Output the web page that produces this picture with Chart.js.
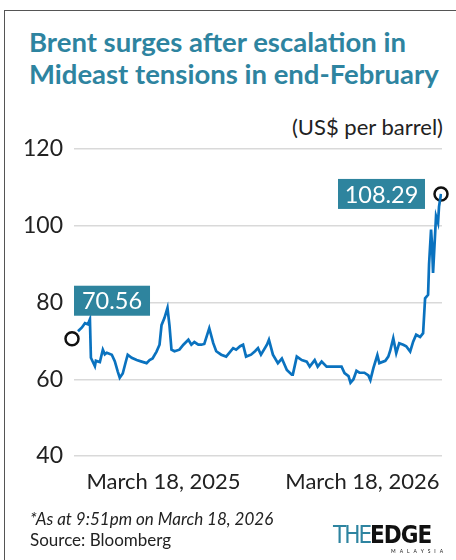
<!DOCTYPE html>
<html>
<head>
  <meta charset="utf-8">
  <title>Brent</title>
  <script src="https://cdn.jsdelivr.net/npm/chart.js@4.4.0/dist/chart.umd.min.js"></script>
  <style>
    html, body {
      margin: 0;
      padding: 0;
      width: 456px;
      height: 560px;
      background: #fff;
      overflow: hidden;
      font-family: Lato, sans-serif;
    }
    #frame {
      position: absolute;
      left: 4px;
      top: 10px;
      width: 470px;
      height: 580px;
      border-left: 1.5px solid #555;
      border-top: 1.5px solid #555;
    }
    #title {
      position: absolute;
      left: 29px;
      top: 26px;
      font-weight: bold;
      font-size: 27.5px;
      line-height: 32px;
      color: #2e84a0;
      white-space: nowrap;
    }
    #unit {
      position: absolute;
      right: 13px;
      top: 113px;
      font-size: 22px;
      color: #222;
      white-space: nowrap;
    }
    #note {
      position: absolute;
      left: 30px;
      top: 508px;
      font-size: 17px;
      line-height: 21px;
      color: #222;
    }
    #note i { font-style: italic; }
    #logo {
      position: absolute;
      left: 333px;
      top: 521px;
      width: 118px;
    }
    #logo .the {
      font-family: "DejaVu Sans Condensed", sans-serif;
      font-size: 24px;
      color: #2e84a0;
      letter-spacing: -2px;
      font-weight: 200;
    }
    #logo .edge {
      font-family: "DejaVu Sans Condensed", sans-serif;
      font-weight: bold;
      font-size: 24px;
      color: #111;
      letter-spacing: -1px;
    }
    #logo .my {
      position: absolute;
      left: 58px;
      top: 27px;
      font-size: 5px;
      letter-spacing: 4px;
      color: #111;
    }
    #chart {
      position: absolute;
      left: 0;
      top: 0;
    }
  </style>
</head>
<body>
  <div id="frame"></div>
  <div id="title">Brent surges after escalation in<br>Mideast tensions in end-February</div>
  <div id="unit">(US$ per barrel)</div>
  <canvas id="chart" width="456" height="560"></canvas>
  <div id="note"><i>*As at 9:51pm on March 18, 2026</i><br>Source: Bloomberg</div>
  <div id="logo"><span class="the">THE</span><span class="edge">EDGE</span><div class="my">MALAYSIA</div></div>
  <script>
    // days after March 18, 2025 and Brent price
    const days = [0, 4, 7, 10, 12, 13, 15, 17, 18, 22, 25, 27, 29, 34, 37, 40, 42, 45, 48, 50,
      54, 59, 64, 69, 72, 75, 79, 82, 84, 87, 90, 92, 94, 97, 102, 106, 111, 114, 117, 121,
      124, 127, 132, 136, 139, 144, 149, 156, 159, 163, 166, 169, 174, 178, 181, 184, 190, 192, 196, 201,
      205, 210, 215, 216, 220, 225, 230, 233, 238, 241, 245, 250, 256, 261, 265, 268, 272, 274, 277, 280,
      283, 288, 292, 294, 297, 301, 303, 309, 312, 314, 317, 320, 323, 327, 330, 334, 337, 340, 344, 347,
      349, 352, 353, 355, 356, 357, 360, 362, 363, 365];
    const prices = [72.5, 73.5, 74.6, 74.3, 75.6, 65.6, 64.5, 63.4, 64.8, 64.5, 67.7, 66.5, 66.9, 66.4, 64.7, 62.0, 60.4, 61.5, 64.5, 66.4,
      65.6, 65.0, 64.6, 64.2, 65.0, 65.4, 67.2, 69.0, 74.1, 76.0, 78.6, 74.0, 67.7, 67.3, 67.7, 69.0, 70.3, 69.0, 69.7, 69.0,
      69.0, 69.2, 73.3, 69.4, 67.3, 66.4, 65.9, 68.1, 67.7, 68.6, 69.0, 65.9, 66.4, 67.3, 68.1, 66.4, 69.0, 70.3, 66.4, 64.2,
      65.4, 62.4, 61.2, 61.2, 65.9, 65.0, 64.6, 63.3, 65.0, 63.3, 64.6, 63.3, 63.3, 63.3, 63.3, 61.6, 60.8, 59.1, 60.0, 62.2,
      61.7, 61.7, 61.0, 59.8, 62.9, 66.3, 64.2, 64.8, 65.9, 67.5, 70.7, 66.8, 69.4, 69.0, 68.6, 67.2, 69.8, 71.6, 71.0, 72.0,
      81.1, 82.0, 90.0, 99.0, 95.0, 87.7, 102.5, 100.8, 105.0, 108.29];
    const markDays = [-6, 365];
    const markPrices = [70.56, 108.29];
    const markLabels = ['70.56', '108.29'];
    const tickDays = [86, 286];
    const tickLabels = ['March 18, 2025', 'March 18, 2026'];

    const lineData = days.map((d, i) => ({ x: d, y: prices[i] }));
    const markData = markDays.map((d, i) => ({ x: d, y: markPrices[i] }));

    const boxLabels = {
      id: 'boxLabels',
      afterDatasetsDraw(chart) {
        const ctx = chart.ctx;
        const pts = chart.getDatasetMeta(1).data;
        ctx.save();
        ctx.font = '23.5px Lato';
        ctx.textBaseline = 'middle';
        ctx.textAlign = 'center';
        pts.forEach((p, i) => {
          let x0, y0;
          const w = i === 0 ? 76 : 87, h = 30;
          if (i === 0) { x0 = p.x + 2; y0 = p.y - 53; }
          else { x0 = p.x - 16 - w; y0 = p.y - 15; }
          ctx.fillStyle = '#2e849e';
          ctx.fillRect(x0, y0, w, h);
          ctx.fillStyle = '#fff';
          ctx.fillText(markLabels[i], x0 + w / 2, y0 + h / 2 + 1);
        });
        ctx.restore();
      }
    };

    new Chart(document.getElementById('chart'), {
      type: 'line',
      data: {
        datasets: [{
          data: lineData,
          borderColor: '#0a72bf',
          borderWidth: 2.7,
          pointRadius: 0,
          tension: 0,
          fill: false
        }, {
          data: markData,
          showLine: false,
          pointRadius: 6.5,
          pointBorderWidth: 2.5,
          pointBorderColor: '#111',
          pointBackgroundColor: '#fff',
          clip: false
        }]
      },
      options: {
        responsive: false,
        animation: false,
        layout: { padding: { left: 0, right: 14, top: 149, bottom: 64 } },
        plugins: { legend: { display: false }, tooltip: { enabled: false } },
        scales: {
          x: {
            type: 'linear',
            min: -4,
            max: 366,
            grid: { display: false, drawTicks: false },
            border: { display: false },
            afterBuildTicks(scale) {
              scale.ticks = tickDays.map(v => ({ value: v }));
            },
            afterFit(scale) { scale.height = 40; },
            ticks: {
              padding: 13,
              maxRotation: 0,
              autoSkip: false,
              color: '#222',
              font: { family: 'Lato', size: 22 },
              callback: (v, i) => tickLabels[i]
            }
          },
          y: {
            min: 40,
            max: 120,
            afterFit(scale) { scale.width = 74; },
            grid: { color: '#d9d9d9', lineWidth: 1.5, drawTicks: false },
            border: { display: false },
            ticks: {
              stepSize: 20,
              padding: 11,
              color: '#222',
              font: { family: 'Lato', size: 23 }
            }
          }
        }
      },
      plugins: [boxLabels]
    });
  </script>
</body>
</html>
